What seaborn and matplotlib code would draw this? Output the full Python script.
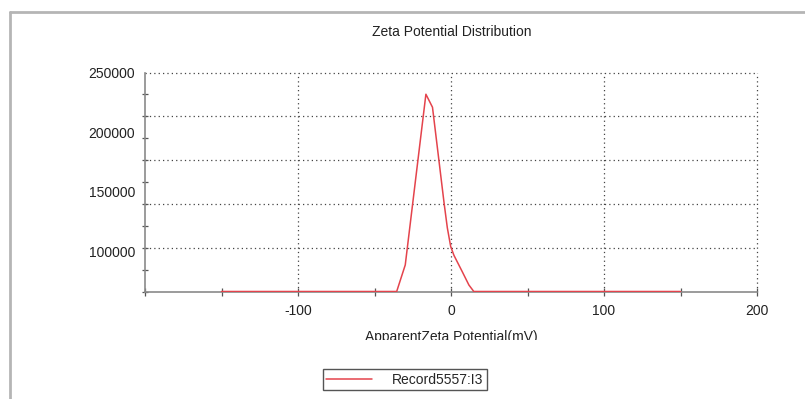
import numpy as np
import pandas as pd
import matplotlib
matplotlib.use("Agg")
import matplotlib.pyplot as plt
from matplotlib.lines import Line2D
from matplotlib.transforms import Bbox, TransformedBbox
import seaborn as sns

# ---- data ----
zeta_mv = [-150, -35.5, -29.9, -16.4, -12.1, -4.5, -2.4, -0.2, 1.9, 7.3, 11.7, 14.9, 150]
counts = [66667, 66667, 88900, 231800, 220900, 140500, 120000, 104300, 97000, 83400, 72100, 66667, 66667]
series_name = "Record5557:I3"
x_ticks = [-100, 0, 100, 200]
x_minor = [-150, -50, 50, 150]
y_ticks = [100000, 150000, 200000, 250000]
y_labels = ["100000", "150000", "200000", "250000"]
title = "Zeta Potential Distribution"
xlabel = "ApparentZeta Potential(mV)"

df = pd.DataFrame({"x": zeta_mv, "y": counts})

sns.set_style("white")
plt.rcParams["font.family"] = ["Liberation Sans", "DejaVu Sans"]

W, H = 805, 399
fig = plt.figure(figsize=(W / 100, H / 100), dpi=100)
ax = fig.add_axes([145 / W, 1 - 291.5 / H, (757 - 145) / W, (291.5 - 72.5) / H])

red = "#e4434c"
sns.lineplot(data=df, x="x", y="y", ax=ax, color=red, linewidth=1.1,
             label=series_name, legend=False, zorder=3)

ymin, ymax = 66667, 250000
ax.set_xlim(-200, 200)
ax.set_ylim(ymin, ymax)

# grid (dotted)
grid_kw = dict(color="#444444", linestyle=(0, (1, 2.5)), linewidth=0.9, zorder=0,
               clip_on=False)
for gy in np.linspace(ymin, ymax, 6)[1:]:
    ax.axhline(gy, **grid_kw)
for gx in x_ticks:
    ax.axvline(gx, **grid_kw)

for s in ["top", "right"]:
    ax.spines[s].set_visible(False)
for s in ["left", "bottom"]:
    ax.spines[s].set_color("#8a8a8a")
    ax.spines[s].set_linewidth(1.2)

ax.set_xticks(x_ticks)
ax.set_xticklabels([str(v) for v in x_ticks])
ax.set_xticks(x_minor + [-200], minor=True)
ax.set_yticks(y_ticks)
ax.set_yticklabels(y_labels)
ax.set_yticks(np.linspace(ymin, ymax, 11), minor=True)

ax.tick_params(axis="both", which="both", direction="inout", color="#555555",
               width=0.9, labelsize=10, labelcolor="#222222",
               bottom=True, left=True, top=False, right=False)
ax.tick_params(axis="x", which="both", length=6, pad=6)
ax.tick_params(axis="y", which="major", length=0, pad=7)
ax.tick_params(axis="y", which="minor", length=5)
ax.set_xlabel("")
ax.set_ylabel("")

fig.text(452 / W, 1 - 32 / H, title, ha="center", va="center", fontsize=10, color="#222222")

xl = fig.text(451 / W, 1 - 341.5 / H, xlabel, ha="center", va="baseline",
              fontsize=10, color="#222222")
clip = TransformedBbox(Bbox([[0, 1 - 339.5 / H], [1, 1]]), fig.transFigure)
xl.set_clip_box(clip)
xl.set_clip_on(True)

handle = Line2D([], [], color=red, linewidth=1.1)
fig.legend([handle], [series_name], loc="center left",
           bbox_to_anchor=(323 / W, 1 - 379.5 / H), fancybox=False,
           edgecolor="#555555", framealpha=1, fontsize=10, handlelength=3.3,
           borderpad=0.25, borderaxespad=0, handletextpad=1.4)

# outer screenshot frame lines
frame_kw = dict(color="#b5b5b5", linewidth=2, transform=fig.transFigure)
fig.add_artist(Line2D([10 / W, 1], [1 - 12 / H, 1 - 12 / H], **frame_kw))
fig.add_artist(Line2D([10 / W, 10 / W], [0, 1 - 12 / H], **frame_kw))

fig.savefig("out.png", dpi=100, facecolor="white")
